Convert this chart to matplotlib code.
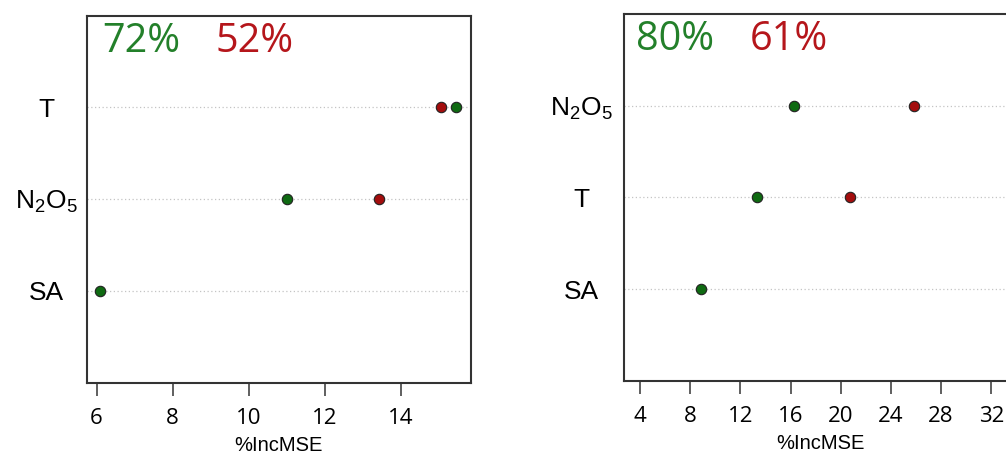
import matplotlib.pyplot as plt
import numpy as np

plt.rcParams['mathtext.default'] = 'regular'

# left panel
left_vars = ['SA', r'N$_2$O$_5$', 'T']
left_green = [6.1, 11.0, 15.45]
left_red = [np.nan, 13.43, 15.05]
left_pct = ['72%', '52%']

# right panel
right_vars = ['SA', 'T', r'N$_2$O$_5$']
right_green = [8.9, 13.3, 16.3]
right_red = [np.nan, 20.76, 25.86]
right_pct = ['80%', '61%']

GREEN_PT = '#0f6a12'
RED_PT = '#a30d0d'
GREEN_TXT = '#23802a'
RED_TXT = '#b5161b'

W, H = 1006, 455
fig = plt.figure(figsize=(W / 100, H / 100), dpi=100)


def panel(rect, labels, green, red, pct, xlim, xticks, pad, pct_x):
    ax = fig.add_axes(rect)
    y = np.arange(1, len(labels) + 1)
    for yy in y:
        ax.axhline(yy, color='#c4c4c4', lw=0.9, ls=(0, (1, 2)), zorder=1)
    ax.plot(red, y, 'o', ms=7.5, mfc=RED_PT, mec='#222222', mew=0.8, zorder=3)
    ax.plot(green, y, 'o', ms=7.5, mfc=GREEN_PT, mec='#222222', mew=0.8, zorder=3)
    ax.set_xlim(*xlim)
    ax.set_ylim(0, len(labels) + 1)
    ax.set_xticks(xticks)
    ax.set_xticklabels([str(t) for t in xticks], fontfamily='Open Sans', fontsize=16)
    ax.tick_params(axis='x', direction='out', length=9, width=1.2, color='#444444', pad=9)
    ax.set_yticks(y)
    ax.set_yticklabels(labels, fontfamily='Liberation Sans', fontsize=19, ha='center')
    ax.tick_params(axis='y', length=0, pad=pad)
    for s in ax.spines.values():
        s.set_linewidth(1.5)
        s.set_color('#333333')
    ax.set_xlabel('%IncMSE', fontfamily='Liberation Sans', fontsize=14.5, labelpad=5)
    ax.text(pct_x[0], 0.93, pct[0], color=GREEN_TXT, fontsize=28.5, fontfamily='Open Sans',
            transform=ax.transAxes, ha='left', va='center')
    ax.text(pct_x[1], 0.93, pct[1], color=RED_TXT, fontsize=28.5, fontfamily='Open Sans',
            transform=ax.transAxes, ha='left', va='center')
    return ax


panel([86.7 / W, 1 - 382.7 / H, 384 / W, 367 / H], left_vars, left_green, left_red,
      left_pct, (5.74, 15.83), [6, 8, 10, 12, 14], 29, (0.04, 0.335))
panel([624 / W, 1 - 380.7 / H, 392.4 / W, 366.7 / H], right_vars, right_green, right_red,
      right_pct, (2.73, 34.0), [4, 8, 12, 16, 20, 24, 28, 32], 31, (0.03, 0.32))

fig.savefig('out.png', dpi=100)
